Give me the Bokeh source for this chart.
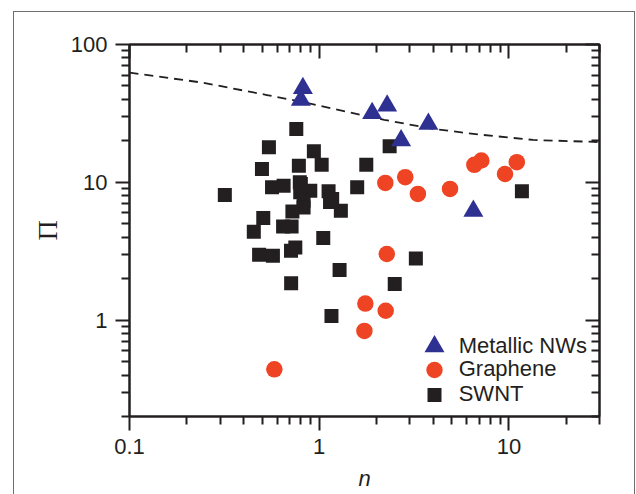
from bokeh.plotting import figure
from bokeh.models import (LogAxis, FixedTicker, CustomJSTickFormatter, Legend, LegendItem,
                          InlineStyleSheet)
from bokeh.embed import file_html
from bokeh.resources import INLINE

# ---------------- data ----------------
swnt_n = [0.318, 0.757, 0.543, 0.937, 0.499, 0.781, 1.03, 1.77, 2.35, 1.585, 11.7, 3.23,
          2.50, 1.16, 1.28, 0.711, 1.05, 0.482, 0.570, 0.748, 0.71, 0.452, 0.507, 0.645,
          0.715, 0.722, 1.30, 0.564, 0.649, 0.80, 0.794, 0.897, 1.12, 1.17, 0.827, 0.827,
          1.14, 0.79]
swnt_pi = [8.1, 24.4, 18.0, 16.8, 12.5, 13.2, 13.4, 13.4, 18.3, 9.2, 8.6, 2.8,
           1.83, 1.07, 2.31, 1.85, 3.95, 2.98, 2.93, 3.37, 3.19, 4.38, 5.5, 4.79,
           4.79, 6.15, 6.23, 9.2, 9.46, 9.73, 8.46, 8.7, 8.6, 7.57, 7.36, 6.58,
           7.2, 10.0]

graphene_n = [2.23, 2.84, 3.31, 4.89, 6.57, 7.15, 9.53, 11.0, 2.27, 1.75, 2.24, 1.73, 0.58]
graphene_pi = [9.9, 10.9, 8.24, 8.96, 13.4, 14.4, 11.5, 14.0, 3.02, 1.32, 1.17, 0.836, 0.44]

nw_n = [0.82, 0.80, 1.90, 2.28, 3.76, 2.70, 6.49]
nw_pi = [48.1, 39.6, 31.7, 35.9, 26.5, 20.1, 6.2]

curve_n = [0.1, 0.24, 0.53, 0.8, 1.4, 2.2, 4.0, 7.0, 13.4, 30]
curve_pi = [62.5, 53, 43, 38.5, 32.5, 28.4, 24.4, 22.2, 20.3, 19.6]

x_major = [0.1, 1, 10]
x_minor = [0.2, 0.3, 0.4, 0.5, 0.6, 0.7, 0.8, 0.9, 2, 3, 4, 5, 6, 7, 8, 9, 20, 30]
y_major = [1, 10, 100]
y_minor = [0.2, 0.3, 0.4, 0.5, 0.6, 0.7, 0.8, 0.9, 2, 3, 4, 5, 6, 7, 8, 9,
           20, 30, 40, 50, 60, 70, 80, 90]

INK = "#231f20"
BLUE = "#2e3192"
RED = "#ee4423"
FONT = "Liberation Sans"

frame_css = InlineStyleSheet(css="""
:host { position: relative; }
:host::after {
  content: "";
  position: absolute;
  left: 13px; top: 11px;
  width: 622px; height: 483px;
  box-sizing: border-box;
  border: 1.5px solid #6e6e6e;
  border-bottom: none;
  pointer-events: none;
}
""")

p = figure(width=636, height=494, x_axis_type="log", y_axis_type="log",
           x_range=(0.1, 30), y_range=(0.2, 100),
           output_backend="svg", toolbar_location=None,
           min_border_left=129, min_border_right=37, min_border_top=44, min_border_bottom=78,
           stylesheets=[frame_css])
p.grid.visible = False
p.outline_line_color = INK
p.outline_line_width = 2
p.background_fill_color = "white"
p.border_fill_color = "white"

fmt = CustomJSTickFormatter(code="return String(tick)")
blank = CustomJSTickFormatter(code="return ''")


def style_axis(ax, inward):
    ax.axis_line_color = INK
    ax.axis_line_width = 2
    ax.major_tick_line_color = INK
    ax.major_tick_line_width = 2
    ax.minor_tick_line_color = INK
    ax.minor_tick_line_width = 2
    if inward:
        ax.major_tick_in, ax.major_tick_out = 14, 0
        ax.minor_tick_in, ax.minor_tick_out = 8, 0
    else:
        ax.major_tick_in, ax.major_tick_out = 0, 14
        ax.minor_tick_in, ax.minor_tick_out = 0, 8
    ax.major_label_text_font = FONT
    ax.major_label_text_font_size = "22px"
    ax.major_label_text_color = INK
    ax.major_label_standoff = 8


xa = p.xaxis[0]
xa.ticker = FixedTicker(ticks=x_major, minor_ticks=x_minor)
xa.formatter = fmt
style_axis(xa, False)
xa.axis_label = "n"
xa.axis_label_text_font = FONT
xa.axis_label_text_font_style = "italic"
xa.axis_label_text_font_size = "22px"
xa.axis_label_text_color = INK
xa.axis_label_standoff = 9

ya = p.yaxis[0]
ya.ticker = FixedTicker(ticks=y_major, minor_ticks=y_minor)
ya.formatter = fmt
style_axis(ya, False)
ya.axis_label = "Π"
ya.axis_label_text_font = "Liberation Serif"
ya.axis_label_text_font_style = "normal"
ya.axis_label_text_font_size = "28px"
ya.axis_label_text_color = INK
ya.axis_label_standoff = 5

top = LogAxis(ticker=FixedTicker(ticks=x_major, minor_ticks=x_minor), formatter=blank)
style_axis(top, True)
p.add_layout(top, "above")
right = LogAxis(ticker=FixedTicker(ticks=y_major, minor_ticks=y_minor), formatter=blank)
style_axis(right, True)
p.add_layout(right, "right")

p.line(curve_n, curve_pi, line_color=INK, line_width=1.8, line_dash="9 6")
r_sq = p.scatter(swnt_n, swnt_pi, marker="square", size=14, fill_color=INK, line_color=None)
r_ci = p.scatter(graphene_n, graphene_pi, marker="circle", size=16.5, fill_color=RED, line_color=None)
r_tr = p.scatter(nw_n, nw_pi, marker="triangle", size=20, fill_color=BLUE, line_color=None)


def make_legend(label, rend, gh, loc):
    lg = Legend(items=[LegendItem(label=label, renderers=[rend])], location=loc,
                glyph_width=50, glyph_height=gh, label_height=gh, label_standoff=-9,
                padding=0, margin=0, spacing=0, border_line_color=None,
                background_fill_alpha=0, label_text_font=FONT,
                label_text_font_size="22px", label_text_color=INK)
    p.add_layout(lg)


make_legend("Metallic NWs", r_tr, 50, (279.7, 45.5))
make_legend("Graphene", r_ci, 41, (279.7, 26.2))
make_legend("SWNT", r_sq, 35, (279.7, 4.5))

open("out.html", "w").write(file_html(p, INLINE))
